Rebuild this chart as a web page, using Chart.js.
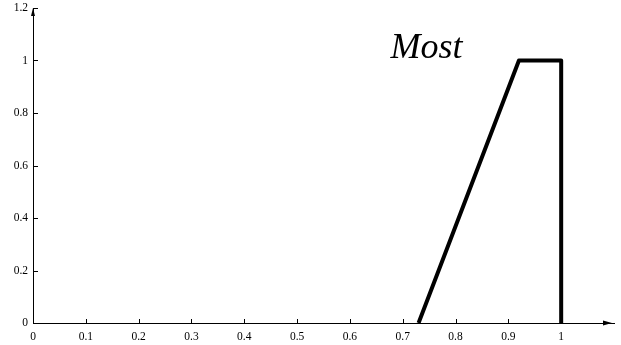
<!DOCTYPE html>
<html>
<head>
<meta charset="utf-8">
<script src="https://cdn.jsdelivr.net/npm/chart.js@4/dist/chart.umd.min.js"></script>
<style>
  html, body { margin: 0; padding: 0; background: #fff; }
  #wrap { width: 621px; height: 345px; position: relative; }
</style>
</head>
<body>
<div id="wrap"><canvas id="mostChart"></canvas></div>
<script>
// membership function "Most" (trapezoid)
const xValues = [0.73, 0.92, 1, 1];
const yValues = [0, 1, 1, 0];
const xTicks = [0, 0.1, 0.2, 0.3, 0.4, 0.5, 0.6, 0.7, 0.8, 0.9, 1];
const yTicks = [0, 0.2, 0.4, 0.6, 0.8, 1, 1.2];
const noteText = 'Most';
const notePos = [0.745, 1.04];

const tickFont = { family: "'Liberation Serif', 'Times New Roman', serif", size: 11.5 };

// inward tick marks, axis arrows and the label
const axisDecor = {
  id: 'axisDecor',
  afterDraw(chart) {
    const { ctx, scales: { x, y }, chartArea: a } = chart;
    ctx.save();
    ctx.strokeStyle = '#000';
    ctx.fillStyle = '#000';
    ctx.lineWidth = 1;
    ctx.beginPath();
    x.ticks.forEach(t => {
      const px = Math.round(x.getPixelForValue(t.value)) + 0.5;
      ctx.moveTo(px, a.bottom);
      ctx.lineTo(px, a.bottom - 4);
    });
    y.ticks.forEach(t => {
      const py = Math.round(y.getPixelForValue(t.value)) + 0.5;
      ctx.moveTo(a.left, py);
      ctx.lineTo(a.left + 5, py);
    });
    ctx.stroke();

    // arrow heads
    ctx.beginPath();
    ctx.moveTo(a.right - 2, a.bottom);
    ctx.lineTo(a.right - 11, a.bottom - 2.5);
    ctx.lineTo(a.right - 11, a.bottom + 2.5);
    ctx.closePath();
    ctx.fill();
    ctx.beginPath();
    ctx.moveTo(a.left, a.top);
    ctx.lineTo(a.left - 2, a.top + 8);
    ctx.lineTo(a.left + 2, a.top + 8);
    ctx.closePath();
    ctx.fill();

    ctx.font = "italic 36px 'Liberation Serif', 'Times New Roman', serif";
    ctx.textAlign = 'center';
    ctx.textBaseline = 'alphabetic';
    ctx.fillText(noteText, x.getPixelForValue(notePos[0]), y.getPixelForValue(notePos[1]) + 8);
    ctx.restore();
  }
};

new Chart(document.getElementById('mostChart'), {
  type: 'scatter',
  data: {
    datasets: [{
      data: xValues.map((v, i) => ({ x: v, y: yValues[i] })),
      showLine: true,
      borderColor: '#000',
      borderWidth: 4,
      borderJoinStyle: 'round',
      pointRadius: 0,
      tension: 0,
      fill: false
    }]
  },
  options: {
    responsive: true,
    maintainAspectRatio: false,
    animation: false,
    layout: { padding: { top: 8, right: 7, left: 0, bottom: 0 } },
    plugins: { legend: { display: false }, tooltip: { enabled: false } },
    scales: {
      x: {
        type: 'linear',
        min: 0,
        max: 1.1,
        afterBuildTicks: s => { s.ticks = xTicks.map(v => ({ value: v })); },
        afterFit: s => { s.height = 22; s.paddingLeft = 0; s.paddingRight = 0; },
        grid: { display: false, drawTicks: false },
        border: { display: true, color: '#000', width: 1 },
        ticks: { color: '#000', font: tickFont, padding: 7, maxRotation: 0, autoSkip: false,
                 callback: v => String(+v.toFixed(1)) }
      },
      y: {
        type: 'linear',
        min: 0,
        max: 1.2,
        afterBuildTicks: s => { s.ticks = yTicks.map(v => ({ value: v })); },
        afterFit: s => { s.width = 33; s.paddingTop = 0; s.paddingBottom = 0; },
        grid: { display: false, drawTicks: false },
        border: { display: true, color: '#000', width: 1 },
        ticks: { color: '#000', font: tickFont, padding: 5, autoSkip: false,
                 callback: v => String(+v.toFixed(1)) }
      }
    }
  },
  plugins: [axisDecor]
});
</script>
</body>
</html>
